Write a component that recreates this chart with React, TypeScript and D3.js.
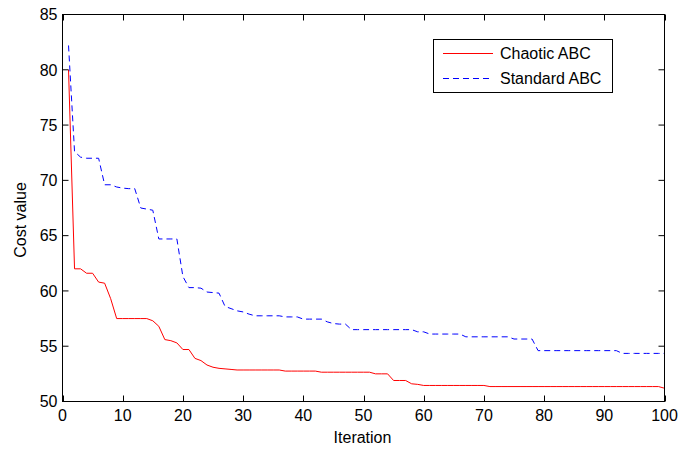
import React from "react";
import * as d3 from "d3";

const iterations: number[] = Array.from({ length: 100 }, (_, i) => i + 1);

const chaoticABC: number[] = [
  80.0, 62.0, 62.0, 61.6, 61.6, 60.8, 60.7, 59.3, 57.5, 57.5,
  57.5, 57.5, 57.5, 57.5, 57.3, 56.8, 55.6, 55.5, 55.3, 54.7,
  54.7, 53.9, 53.7, 53.3, 53.1, 53.0, 52.95, 52.9, 52.85, 52.85,
  52.85, 52.85, 52.85, 52.85, 52.85, 52.85, 52.75, 52.75, 52.75, 52.75,
  52.75, 52.75, 52.65, 52.65, 52.65, 52.65, 52.65, 52.65, 52.65, 52.65,
  52.65, 52.5, 52.5, 52.5, 51.9, 51.9, 51.9, 51.6, 51.55, 51.45,
  51.45, 51.45, 51.45, 51.45, 51.45, 51.45, 51.45, 51.45, 51.45, 51.45,
  51.35, 51.35, 51.35, 51.35, 51.35, 51.35, 51.35, 51.35, 51.35, 51.35,
  51.35, 51.35, 51.35, 51.35, 51.35, 51.35, 51.35, 51.35, 51.35, 51.35,
  51.35, 51.35, 51.35, 51.35, 51.35, 51.35, 51.35, 51.35, 51.35, 51.2,
];

const standardABC: number[] = [
  82.2, 72.6, 72.1, 72.0, 72.0, 72.0, 69.6, 69.6, 69.4, 69.3,
  69.25, 69.25, 67.5, 67.4, 67.3, 64.7, 64.7, 64.7, 64.7, 61.3,
  60.3, 60.3, 60.25, 59.9, 59.85, 59.8, 58.6, 58.4, 58.2, 58.1,
  57.9, 57.75, 57.75, 57.75, 57.75, 57.75, 57.65, 57.65, 57.65, 57.45,
  57.45, 57.45, 57.45, 57.2, 57.05, 57.0, 57.0, 56.5, 56.5, 56.5,
  56.5, 56.5, 56.5, 56.5, 56.5, 56.5, 56.5, 56.5, 56.3, 56.3,
  56.1, 56.1, 56.1, 56.1, 56.1, 56.1, 55.85, 55.85, 55.85, 55.85,
  55.85, 55.85, 55.85, 55.85, 55.65, 55.65, 55.65, 55.65, 54.6, 54.6,
  54.6, 54.6, 54.6, 54.6, 54.6, 54.6, 54.6, 54.6, 54.6, 54.6,
  54.6, 54.6, 54.35, 54.35, 54.35, 54.35, 54.35, 54.35, 54.35, 54.35,
];

const xTicks: number[] = [0, 10, 20, 30, 40, 50, 60, 70, 80, 90, 100];
const yTicks: number[] = [50, 55, 60, 65, 70, 75, 80, 85];
const seriesNames: string[] = ["Chaotic ABC", "Standard ABC"];

const W = 696;
const H = 449;
const FONT = "'Liberation Sans', Arial, Helvetica, sans-serif";
const FS = 16;

export default function App() {
  const x = d3.scaleLinear().domain([0, 100]).range([62.5, 664.5]);
  const y = d3.scaleLinear().domain([50, 85]).range([401.5, 14.5]);
  const left = x(0), right = x(100), top = y(85), bottom = y(50);
  const tick = 6;

  const line = d3
    .line<number>()
    .x((_, i) => x(iterations[i]))
    .y((d) => y(d));

  const legX = 433.5, legY = 39.5, legW = 179, legH = 53;

  return (
    <div style={{ position: "absolute", left: 0, top: 0 }}>
      <svg width={W} height={H} style={{ display: "block", background: "#fff" }}>
        <rect x={0} y={0} width={W} height={H} fill="#fff" />
        <defs>
          <clipPath id="clip">
            <rect x={left} y={top} width={right - left} height={bottom - top} />
          </clipPath>
        </defs>
        <g clipPath="url(#clip)">
          <path d={line(chaoticABC) || ""} fill="none" stroke="#ff0000" strokeWidth={1} />
          <path d={line(standardABC) || ""} fill="none" stroke="#0000ff" strokeWidth={1} strokeDasharray="6,4" />
        </g>
        <rect x={left} y={top} width={right - left} height={bottom - top} fill="none" stroke="#000" strokeWidth={1} />
        {xTicks.map((t) => (
          <g key={"x" + t}>
            <line x1={Math.round(x(t)) + 0.5} x2={Math.round(x(t)) + 0.5} y1={bottom} y2={bottom - tick} stroke="#000" />
            <line x1={Math.round(x(t)) + 0.5} x2={Math.round(x(t)) + 0.5} y1={top} y2={top + tick} stroke="#000" />
            <text x={x(t)} y={421} textAnchor="middle" fontFamily={FONT} fontSize={FS} fill="#000">
              {t}
            </text>
          </g>
        ))}
        {yTicks.map((t) => (
          <g key={"y" + t}>
            <line x1={left} x2={left + tick} y1={y(t)} y2={y(t)} stroke="#000" />
            <line x1={right} x2={right - tick} y1={y(t)} y2={y(t)} stroke="#000" />
            <text x={left - 5} y={y(t) + 5.8} textAnchor="end" fontFamily={FONT} fontSize={FS} fill="#000">
              {t}
            </text>
          </g>
        ))}
        <text x={362.5} y={443} textAnchor="middle" fontFamily={FONT} fontSize={FS} fill="#000">
          Iteration
        </text>
        <text
          transform={`translate(25.5,220) rotate(-90)`}
          textAnchor="middle"
          fontFamily={FONT}
          fontSize={FS}
          fill="#000"
        >
          Cost value
        </text>
        <rect x={legX} y={legY} width={legW} height={legH} fill="#fff" stroke="#000" strokeWidth={1} />
        <line x1={443} x2={493} y1={53.5} y2={53.5} stroke="#ff0000" strokeWidth={1} />
        <line x1={443} x2={493} y1={78.5} y2={78.5} stroke="#0000ff" strokeWidth={1} strokeDasharray="6,4" />
        <text x={500} y={59.3} fontFamily={FONT} fontSize={FS} fill="#000">{seriesNames[0]}</text>
        <text x={500} y={84.3} fontFamily={FONT} fontSize={FS} fill="#000">{seriesNames[1]}</text>
      </svg>
    </div>
  );
}
